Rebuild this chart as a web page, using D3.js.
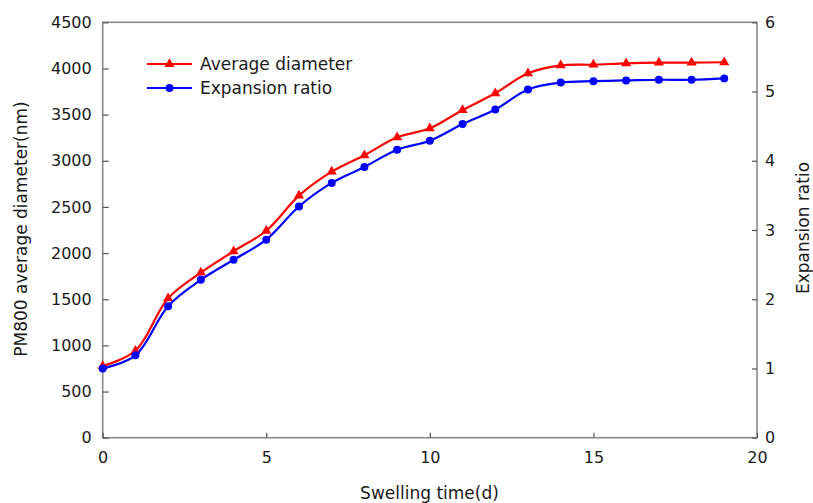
<!DOCTYPE html>
<html>
<head>
<meta charset="utf-8">
<script src="https://cdn.jsdelivr.net/npm/d3@7"></script>
<style>
  html, body { margin: 0; padding: 0; background: #fff; }
  svg text { font-family: "DejaVu Sans", sans-serif; fill: #1a1a1a; }
</style>
</head>
<body>
<svg id="chart" width="813" height="503"></svg>
<script>
// Swelling time (days)
const days = [0, 1, 2, 3, 4, 5, 6, 7, 8, 9, 10, 11, 12, 13, 14, 15, 16, 17, 18, 19];
// PM800 average diameter (nm), left axis
const avgDiameter = [777, 942, 1510, 1788, 2020, 2242, 2622, 2882, 3060, 3254, 3352, 3550, 3731, 3947, 4034, 4041, 4056, 4063, 4063, 4067];
// Expansion ratio, right axis
const expansionRatio = [1.00, 1.19, 1.90, 2.28, 2.57, 2.86, 3.34, 3.68, 3.91, 4.16, 4.29, 4.53, 4.74, 5.03, 5.13, 5.15, 5.16, 5.17, 5.17, 5.19];

const xTicks = [0, 5, 10, 15, 20];
const leftTicks = [0, 500, 1000, 1500, 2000, 2500, 3000, 3500, 4000, 4500];
const rightTicks = [0, 1, 2, 3, 4, 5, 6];

const seriesNames = ["Average diameter", "Expansion ratio"];

const svg = d3.select("#chart");
const plot = { left: 102.7, right: 757, top: 22.3, bottom: 437.7 };

const x = d3.scaleLinear().domain([0, 20]).range([plot.left, plot.right]);
const yL = d3.scaleLinear().domain([0, 4500]).range([plot.bottom, plot.top]);
const yR = d3.scaleLinear().domain([0, 6]).range([plot.bottom, plot.top]);

const axisColor = "#8a8a8a";

// plot frame
svg.append("rect")
  .attr("x", plot.left).attr("y", plot.top)
  .attr("width", plot.right - plot.left).attr("height", plot.bottom - plot.top)
  .attr("fill", "none").attr("stroke", axisColor).attr("stroke-width", 1.6);

function styleAxis(g) {
  g.select(".domain").remove();
  g.selectAll(".tick line").attr("stroke", "#555").attr("stroke-width", 1.2);
  g.selectAll(".tick text").style("font-size", "16px").attr("fill", "#1a1a1a");
}

svg.append("g")
  .attr("transform", `translate(0,${plot.bottom})`)
  .call(d3.axisBottom(x).tickValues(xTicks).tickFormat(d3.format("d")).tickSize(-5).tickPadding(14))
  .call(styleAxis);

svg.append("g")
  .attr("transform", `translate(${plot.left},0)`)
  .call(d3.axisLeft(yL).tickValues(leftTicks).tickFormat(d3.format("d")).tickSize(-6).tickPadding(11))
  .call(styleAxis);

svg.append("g")
  .attr("transform", `translate(${plot.right},0)`)
  .call(d3.axisRight(yR).tickValues(rightTicks).tickFormat(d3.format("d")).tickSize(-5).tickPadding(8))
  .call(styleAxis);

// axis titles
svg.append("text")
  .attr("transform", `translate(21,229) rotate(-90)`)
  .attr("text-anchor", "middle").attr("dominant-baseline", "central")
  .style("font-size", "17px")
  .text("PM800 average diameter(nm)");

svg.append("text")
  .attr("transform", `translate(803,228) rotate(-90)`)
  .attr("text-anchor", "middle").attr("dominant-baseline", "central")
  .style("font-size", "17px")
  .text("Expansion ratio");

svg.append("text")
  .attr("x", 429.5).attr("y", 493)
  .attr("text-anchor", "middle").attr("dominant-baseline", "central")
  .style("font-size", "17px")
  .text("Swelling time(d)");

// series
const series = [
  { name: seriesNames[0], values: avgDiameter, y: yL, color: "#ff0000", symbol: d3.symbolTriangle, size: 44 },
  { name: seriesNames[1], values: expansionRatio, y: yR, color: "#0000ff", symbol: d3.symbolCircle, size: 50 }
];

series.forEach(s => {
  const pts = days.map((d, i) => [d, s.values[i]]);
  const line = d3.line()
    .x(d => x(d[0]))
    .y(d => s.y(d[1]))
    .curve(d3.curveCatmullRom.alpha(0.5));
  svg.append("path")
    .datum(pts)
    .attr("d", line)
    .attr("fill", "none")
    .attr("stroke", s.color)
    .attr("stroke-width", 2.2);
  svg.append("g").selectAll("path")
    .data(pts)
    .join("path")
    .attr("transform", d => `translate(${x(d[0])},${s.y(d[1])})`)
    .attr("d", d3.symbol().type(s.symbol).size(s.size))
    .attr("fill", s.color);
});

// legend
const legend = svg.append("g").attr("transform", "translate(147,64)");
series.forEach((s, i) => {
  const g = legend.append("g").attr("transform", `translate(0,${i * 24})`);
  g.append("line").attr("x1", 0).attr("x2", 45).attr("y1", 0).attr("y2", 0)
    .attr("stroke", s.color).attr("stroke-width", 2.2);
  g.append("path").attr("transform", "translate(22.5,0)")
    .attr("d", d3.symbol().type(s.symbol).size(s.size)).attr("fill", s.color);
  g.append("text").attr("x", 53).attr("y", 0)
    .attr("dominant-baseline", "central")
    .style("font-size", "17px")
    .text(s.name);
});
</script>
</body>
</html>
